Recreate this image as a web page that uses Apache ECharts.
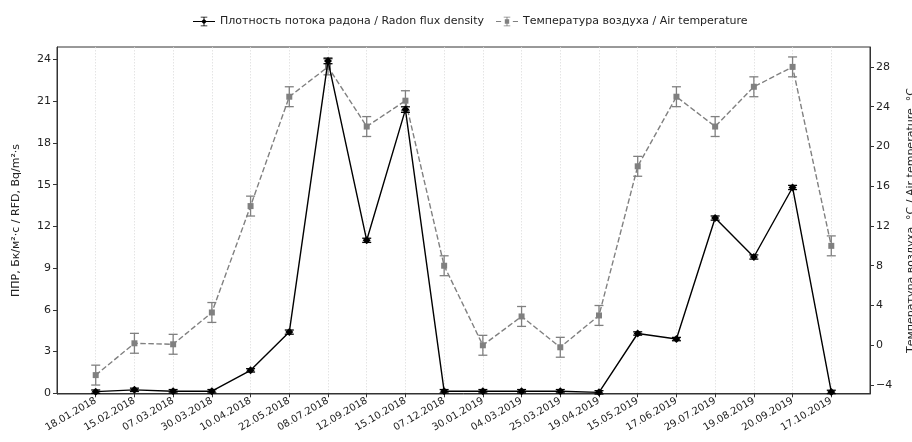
<!DOCTYPE html>
<html><head><meta charset="utf-8">
<script src="https://cdn.jsdelivr.net/npm/echarts@6/dist/echarts.min.js"></script>
<style>html,body{margin:0;padding:0;background:#fff}#c{width:912px;height:442px}</style>
</head><body><div id="c"></div>
<script>
const dates = ['18.01.2018','15.02.2018','07.03.2018','30.03.2018','10.04.2018','22.05.2018','08.07.2018','12.09.2018','15.10.2018','07.12.2018','30.01.2019','04.03.2019','25.03.2019','19.04.2019','15.05.2019','17.06.2019','29.07.2019','19.08.2019','20.09.2019','17.10.2019'];
const radon = [0.12, 0.25, 0.15, 0.15, 1.65, 4.4, 23.9, 11.0, 20.4, 0.15, 0.15, 0.15, 0.15, 0.07, 4.3, 3.9, 12.6, 9.8, 14.8, 0.1];
const radonErr = [0.12, 0.12, 0.12, 0.12, 0.12, 0.15, 0.2, 0.15, 0.2, 0.12, 0.12, 0.12, 0.12, 0.12, 0.12, 0.12, 0.15, 0.15, 0.15, 0.12];
const temp = [-3.0, 0.2, 0.1, 3.3, 14.0, 25.0, 28.0, 22.0, 24.6, 8.0, 0.0, 2.9, -0.2, 3.0, 18.0, 25.0, 22.0, 26.0, 28.0, 10.0];
const tempErr = [1.0, 1.0, 1.0, 1.0, 1.0, 1.0, 0.8, 1.0, 1.0, 1.0, 1.0, 1.0, 1.0, 1.0, 1.0, 1.0, 1.0, 1.0, 1.0, 1.0];
const leftTickValues = [0, 3, 6, 9, 12, 15, 18, 21, 24];
const rightTickValues = [-4, 0, 4, 8, 12, 16, 20, 24, 28];
const leftRange = [-0.05, 24.9];
const rightRange = [-4.9, 30.0];
const legendNames = ['Плотность потока радона / Radon flux density', 'Температура воздуха / Air temperature'];
const leftName = 'ППР, Бк/м²·с / RFD, Bq/m²·s';
const rightName = 'Температура воздуха, °С / Air temperature, °С';

const cats = [''].concat(dates, ['']);
const pad = a => [null].concat(a, [null]);
const errData = (v, e) => v.map((x, i) => [i + 1, x - e[i], x + e[i]]);

function errRender(color, lw, cap) {
  return function (params, api) {
    const lo = api.coord([api.value(0), api.value(1)]);
    const hi = api.coord([api.value(0), api.value(2)]);
    const st = {stroke: color, lineWidth: lw};
    return {type: 'group', children: [
      {type: 'line', shape: {x1: lo[0], y1: lo[1], x2: hi[0], y2: hi[1]}, style: st},
      {type: 'line', shape: {x1: lo[0] - cap, y1: lo[1], x2: lo[0] + cap, y2: lo[1]}, style: st},
      {type: 'line', shape: {x1: hi[0] - cap, y1: hi[1], x2: hi[0] + cap, y2: hi[1]}, style: st}
    ]};
  };
}

const iconRadon = 'path://M0,6.4L30,6.4L30,7.6L0,7.6Z M14.4,1L15.6,1L15.6,13L14.4,13Z M10.5,0.4L19.5,0.4L19.5,1.6L10.5,1.6Z M10.5,12.4L19.5,12.4L19.5,13.6L10.5,13.6Z M15,3.2L18.8,7L15,10.8L11.2,7Z';
const iconTemp = 'path://M0,6.4L7,6.4L7,7.6L0,7.6Z M23,6.4L30,6.4L30,7.6L23,7.6Z M14.4,1L15.6,1L15.6,13L14.4,13Z M10.5,0.4L19.5,0.4L19.5,1.6L10.5,1.6Z M10.5,12.4L19.5,12.4L19.5,13.6L10.5,13.6Z M12,4L18,4L18,10L12,10Z';

const font = 'DejaVu Sans';
const chart = echarts.init(document.getElementById('c'), null, {renderer: 'canvas'});
chart.setOption({
  animation: false,
  textStyle: {fontFamily: font},
  legend: {
    top: 11, left: 188, itemWidth: 22, itemHeight: 12, itemGap: 12,
    textStyle: {fontFamily: font, fontSize: 11, color: '#222'},
    data: [{name: legendNames[0], icon: iconRadon}, {name: legendNames[1], icon: iconTemp}]
  },
  grid: {left: 57, right: 42, top: 47, bottom: 48, show: true, borderColor: '#333', borderWidth: 1,
         containLabel: false, outerBoundsMode: 'none'},
  xAxis: {
    type: 'category', data: cats, boundaryGap: false,
    axisLine: {lineStyle: {color: '#333'}},
    axisTick: {length: 4, lineStyle: {color: '#333'}, interval: (i, v) => v !== ''},
    axisLabel: {rotate: 30, fontSize: 10, color: '#222', margin: 6, interval: 0, fontFamily: font},
    splitLine: {show: true, interval: (i, v) => v !== '', lineStyle: {color: '#ddd', type: [1.5, 1.5], width: 0.8}}
  },
  yAxis: [{
    type: 'value', min: leftRange[0], max: leftRange[1],
    axisLine: {show: true, lineStyle: {color: '#333'}},
    axisTick: {show: true, length: 4, lineStyle: {color: '#333'}, customValues: leftTickValues},
    axisLabel: {fontSize: 11, color: '#222', margin: 6, customValues: leftTickValues, fontFamily: font},
    splitLine: {show: false},
    name: leftName, nameLocation: 'middle', nameGap: 35, nameRotate: 90,
    nameTextStyle: {fontSize: 11, color: '#222', fontFamily: font}
  }, {
    type: 'value', min: rightRange[0], max: rightRange[1], position: 'right',
    axisLine: {show: true, lineStyle: {color: '#333'}},
    axisTick: {show: true, length: 4, lineStyle: {color: '#333'}, customValues: rightTickValues},
    axisLabel: {fontSize: 11, color: '#222', margin: 6, customValues: rightTickValues, fontFamily: font,
      formatter: v => v < 0 ? '\u2212' + Math.abs(v) : String(v)},
    splitLine: {show: false},
    name: rightName, nameLocation: 'middle', nameGap: 36, nameRotate: 90,
    nameTextStyle: {fontSize: 11, color: '#222', fontFamily: font}
  }],
  series: [
    {type: 'custom', name: legendNames[1] + ' err', yAxisIndex: 1, data: errData(temp, tempErr),
     renderItem: errRender('#808080', 1.3, 4.5), z: 2, silent: true},
    {type: 'line', name: legendNames[1], yAxisIndex: 1, data: pad(temp), color: '#808080',
     symbol: 'rect', symbolSize: 6, lineStyle: {color: '#808080', width: 1.4, type: [5.5, 2.5]},
     itemStyle: {color: '#808080'}, z: 3},
    {type: 'custom', name: legendNames[0] + ' err', yAxisIndex: 0, data: errData(radon, radonErr),
     renderItem: errRender('#000', 1.3, 4.5), z: 4, silent: true},
    {type: 'line', name: legendNames[0], yAxisIndex: 0, data: pad(radon), color: '#000',
     symbol: 'diamond', symbolSize: 8, lineStyle: {color: '#000', width: 1.4},
     itemStyle: {color: '#000'}, z: 5}
  ]
});
</script></body></html>
